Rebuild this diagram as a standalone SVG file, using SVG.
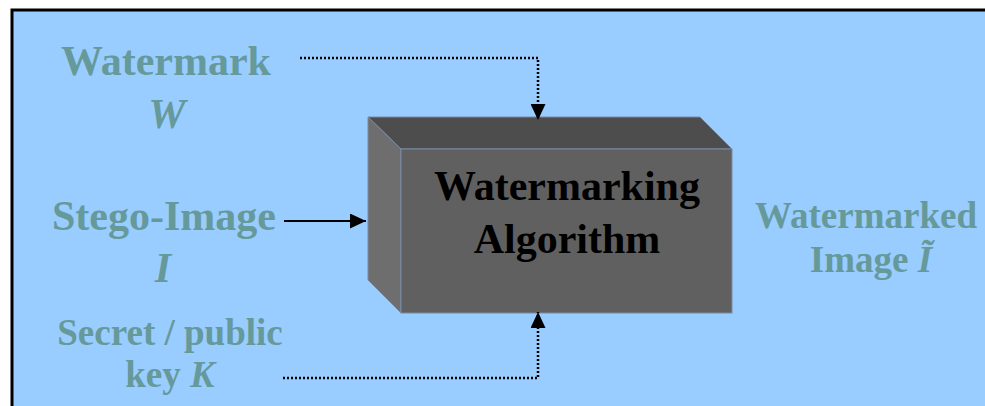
<svg xmlns="http://www.w3.org/2000/svg" width="985" height="406" viewBox="0 0 985 406">
  <defs>
    <style>
      .lbl { font-family: "Liberation Serif", "Times New Roman", serif; font-weight: bold; fill: #669999; text-anchor: middle; }
      .box-text { font-family: "Liberation Serif", "Times New Roman", serif; font-weight: bold; fill: #000000; text-anchor: middle; font-size: 42px; }
      .it { font-style: italic; }
      .dotted { fill: none; stroke: #000000; stroke-width: 2.5; stroke-dasharray: 2 2; }
      .solid { fill: none; stroke: #000000; stroke-width: 2; }
      .face { stroke: #7a8aa3; stroke-width: 1; stroke-linejoin: miter; }
    </style>
    <marker id="arrow" viewBox="0 0 10 10" refX="10" refY="5" markerWidth="16" markerHeight="15" markerUnits="userSpaceOnUse" orient="auto" preserveAspectRatio="none">
      <path d="M0,0 L10,5 L0,10 Z" fill="#000000"/>
    </marker>
  </defs>

  <!-- panel -->
  <rect x="0" y="0" width="985" height="406" fill="#ffffff"/>
  <rect x="12" y="10" width="990" height="420" fill="#99ccff" stroke="#000000" stroke-width="3"/>

  <!-- 3D block -->
  <g id="algorithm">
    <polygon class="face" points="368,117 700,117 732,149 401,149" fill="#4d4d4d"/>
    <polygon class="face" points="368,117 401,149 401,313 368,280" fill="#6e6e6e"/>
    <rect class="face" x="401" y="149" width="331" height="164" fill="#606060"/>
    <text class="box-text" x="567" y="200">Watermarking</text>
    <text class="box-text" x="567" y="253">Algorithm</text>
  </g>

  <g id="watermark">
    <text class="lbl" x="166" y="75" font-size="42">Watermark</text>
    <text class="lbl it" x="167" y="128" font-size="42">W</text>
  </g>

  <g id="stego-image">
    <text class="lbl" x="164" y="230" font-size="42">Stego-Image</text>
    <text class="lbl it" x="163" y="282" font-size="42">I</text>
  </g>

  <g id="key">
    <text class="lbl" x="170" y="345" font-size="37">Secret / public</text>
    <text class="lbl" x="170" y="387" font-size="37">key <tspan class="it">K</tspan></text>
  </g>

  <g id="watermarked-image">
    <text class="lbl" x="866" y="228" font-size="37">Watermarked</text>
    <text class="lbl" x="871" y="272" font-size="37">Image <tspan class="it">Ĩ</tspan></text>
  </g>

  <!-- connectors -->
  <g id="connectors">
    <path class="dotted" d="M300,58 H538 V120" marker-end="url(#arrow)"/>
    <path class="solid" d="M284,221 H366" marker-end="url(#arrow)"/>
    <path class="dotted" d="M283,378 H538 V312" marker-end="url(#arrow)"/>
  </g>
</svg>
